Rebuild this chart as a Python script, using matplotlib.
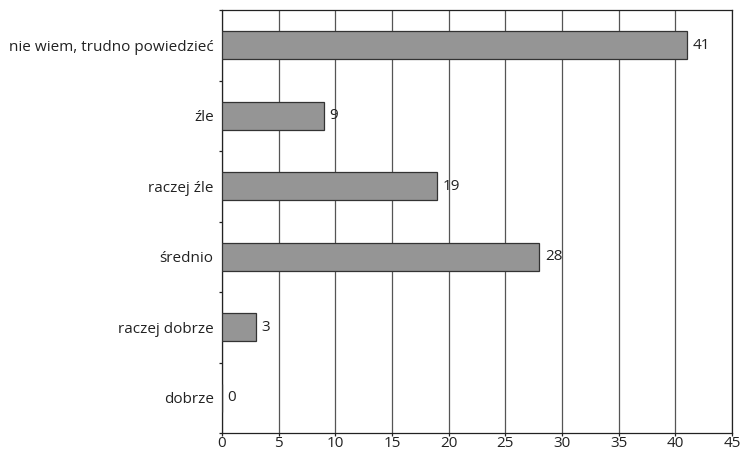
import matplotlib.pyplot as plt
from matplotlib.ticker import MultipleLocator

categories = [
    'dobrze',
    'raczej dobrze',
    'średnio',
    'raczej źle',
    'źle',
    'nie wiem, trudno powiedzieć',
]
values = [0, 3, 28, 19, 9, 41]
x_ticks = list(range(0, 50, 5))

plt.rcParams['font.family'] = ['Open Sans', 'DejaVu Sans']
plt.rcParams['font.size'] = 11

fig = plt.figure(figsize=(7.40, 4.53), dpi=100)
ax = fig.add_axes([222 / 740, 1 - 433 / 453, 510 / 740, 423 / 453])

positions = list(range(len(categories)))
ax.barh(positions, values, height=0.4, color='#959595',
        edgecolor='#333333', linewidth=0.9, zorder=3)

for pos, val in zip(positions, values):
    ax.annotate(str(val), (val, pos), xytext=(4, 0),
                textcoords='offset points', ha='left', va='center',
                color='#222222', zorder=4)

ax.set_xlim(0, 45)
ax.set_ylim(-0.5, len(categories) - 0.5)
ax.set_xticks(x_ticks)
ax.set_yticks(positions)
ax.set_yticklabels(categories)
ax.yaxis.set_minor_locator(MultipleLocator(1, offset=0.5))
ax.tick_params(axis='y', which='major', length=0, pad=6)
ax.tick_params(axis='y', which='minor', length=2.5, width=0.9, color='#222222')
ax.tick_params(axis='x', length=2, width=0.9, color='#222222', pad=0.5)
ax.tick_params(labelcolor='#222222')

ax.grid(axis='x', color='#555555', linewidth=0.9, zorder=0)
for spine in ax.spines.values():
    spine.set_color('#222222')
    spine.set_linewidth(0.9)

fig.savefig('out.png', dpi=100)
